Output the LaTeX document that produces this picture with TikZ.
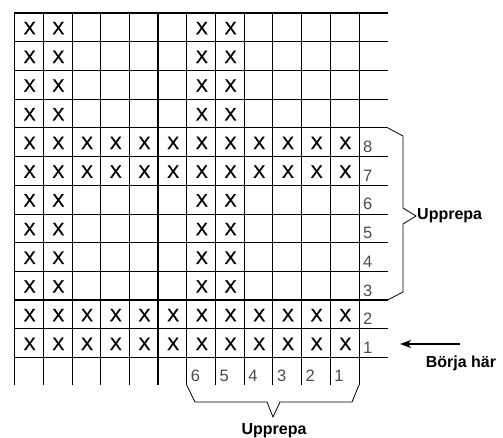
\documentclass[tikz,border=0pt]{standalone}
\usepackage{fontspec}
\setmainfont{Liberation Sans}
\newfontfamily\stitchfont[FakeBold=1]{Liberation Sans}
\usetikzlibrary{positioning, arrows.meta}

\begin{document}
\begin{tikzpicture}[x=1pt, y=-1pt,
    gridline/.style={line width=0.8pt},
    boldline/.style={line width=1.9pt},
    stitch/.style={font=\stitchfont\fontsize{18}{18}\selectfont, inner sep=0pt},
    count/.style={font=\fontsize{16.5}{16.5}\selectfont, text=black!70, inner sep=0pt, anchor=base west},
    note/.style={font=\fontsize{16}{16}\selectfont\bfseries, inner sep=0pt}]
    \useasboundingbox (0,0) rectangle (503,437);
    \def\cw{28.7}
    \def\ox{14.5}
    \def\oy{13}
    % grid lines
    \foreach \j in {0,...,12}
        \draw[gridline] (\ox,\oy+\j*\cw) -- (\ox+13*\cw,\oy+\j*\cw);
    \foreach \i in {0,...,12}
        \draw[gridline] (\ox+\i*\cw,\oy) -- (\ox+\i*\cw,\oy+13*\cw-1);
    \foreach \j in {0,5,10}
        \draw[boldline] (\ox,\oy+\j*\cw) -- (\ox+13*\cw,\oy+\j*\cw);
    \foreach \i in {0,5,10}
        \draw[boldline] (\ox+\i*\cw,\oy-0.9) -- (\ox+\i*\cw,\oy+13*\cw-1);
    % stitches
    \foreach \r in {1,...,12}
        \foreach \c in {1,2,7,8}
            \node[stitch] (x-\r-\c) at (\ox+\c*\cw-0.5*\cw+0.8,\oy+\r*\cw-0.5*\cw+0.8) {X};
    \foreach \r in {5,6,11,12}
        \foreach \c in {3,4,5,6,9,10,11,12}
            \node[stitch] (x-\r-\c) at (\ox+\c*\cw-0.5*\cw+0.8,\oy+\r*\cw-0.5*\cw+0.8) {X};
    % row and column numbers
    \foreach \r in {5,...,12}{
        \pgfmathtruncatemacro{\n}{13-\r}
        \node[count] (row-\n) at (\ox+12*\cw+4,\oy+\r*\cw-4) {\n};
    }
    \foreach \c in {7,...,12}{
        \pgfmathtruncatemacro{\n}{13-\c}
        \node[count] (col-\n) at (\ox+\c*\cw-\cw+4,\oy+13*\cw-4.5) {\n};
    }
    % braces
    \draw[gridline] (\ox+13*\cw,\oy+4*\cw) -- (403,136) -- (403,208) -- (416,216)
        -- (403,224) -- (403,292) -- (\ox+13*\cw,\oy+10*\cw);
    \node[note, anchor=west] (rep-rows) at (417,216) {Upprepa};
    \draw[gridline] (\ox+6*\cw,\oy+13*\cw-1) -- (195,402) -- (267,402) -- (273,417)
        -- (280,402) -- (352,402) -- (\ox+12*\cw,\oy+13*\cw-1);
    \node[note, anchor=base] (rep-cols) at (274,434) {Upprepa};
    % start
    \node[note] (start) at (461,363) {Börja här};
    \coordinate (tail) at (460,344);
    \coordinate (head) at (400,344);
    \draw[line width=1.8pt, -{Stealth[length=11pt, width=8pt, inset=3pt]}] (tail) -- (head);
\end{tikzpicture}
\end{document}
